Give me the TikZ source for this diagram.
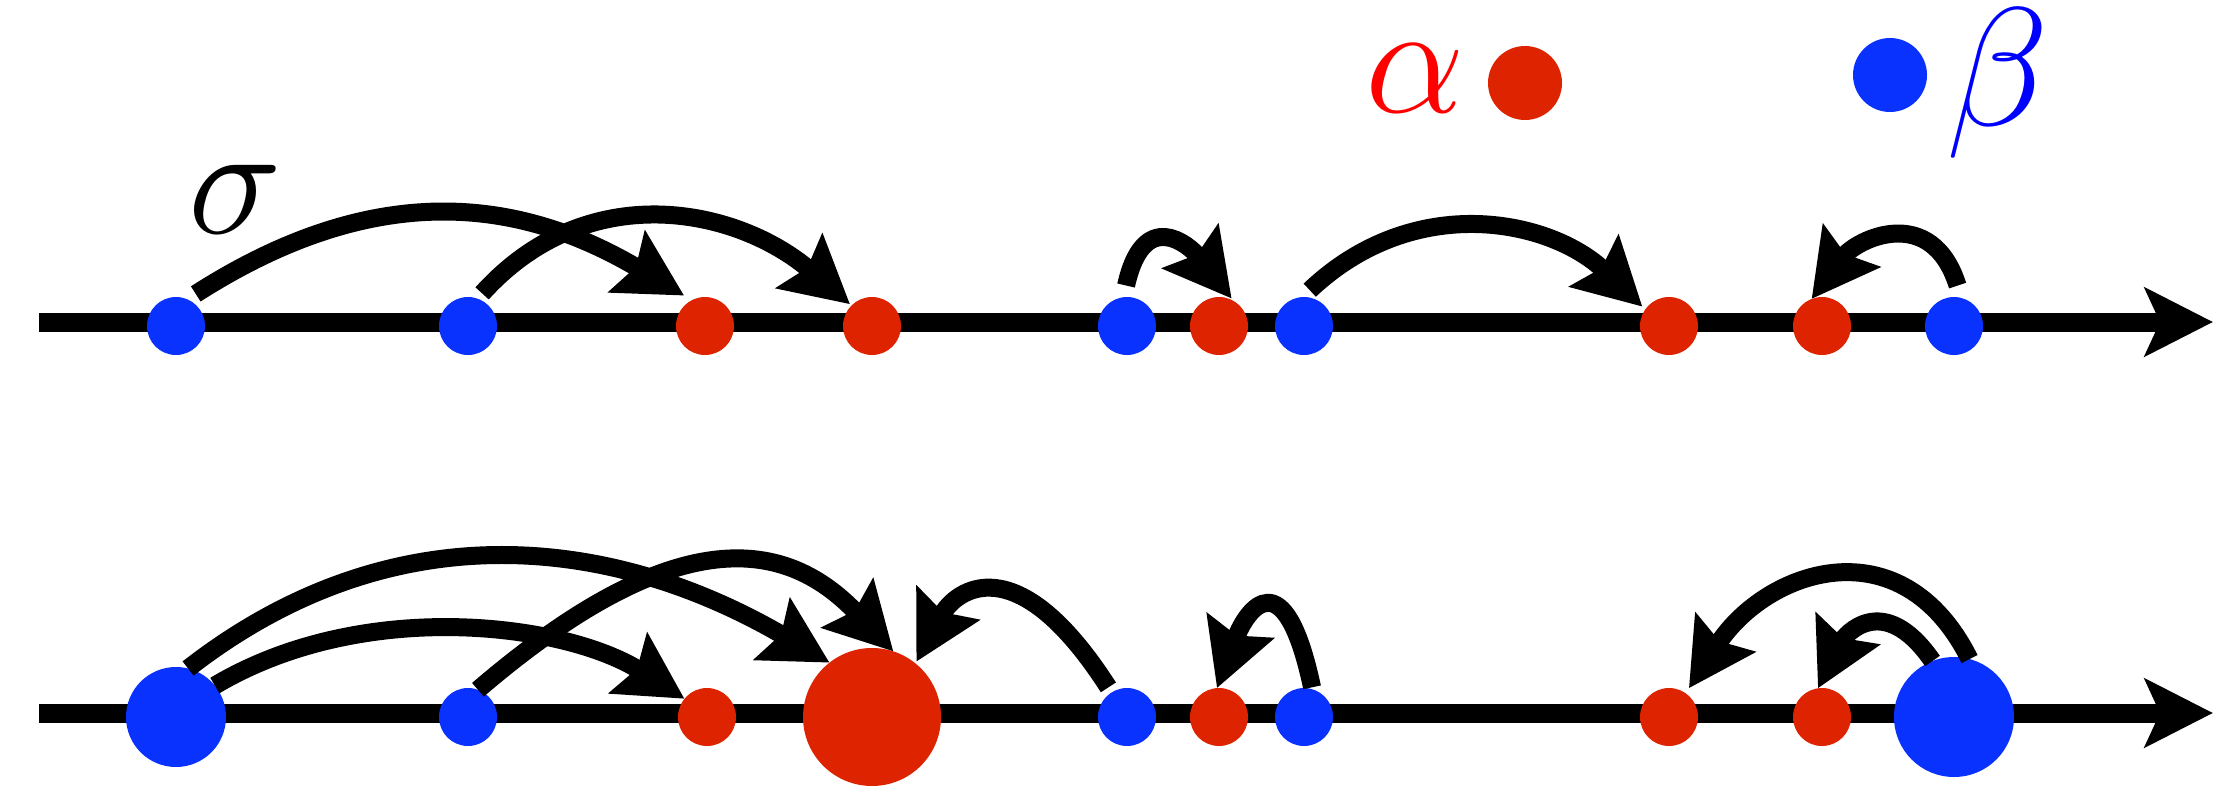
\RequirePackage{fix-cm}
\documentclass[tikz,border=0pt]{standalone}
\usetikzlibrary{arrows.meta}
\definecolor{dotred}{RGB}{222,35,0}
\definecolor{dotblue}{RGB}{10,50,255}
\begin{document}
\begin{tikzpicture}[x=0.1mm,y=-0.1mm,
  dot/.style={circle,inner sep=0pt,outer sep=0pt,minimum size=5.8mm},
  rdot/.style={dot,fill=dotred},
  bdot/.style={dot,fill=dotblue},
  axisline/.style={line width=1.9mm,-{Stealth[length=6.8mm,width=6.8mm,inset=1.5mm]}},
  jump/.style={line width=1.8mm,-{Stealth[length=6.6mm,width=7mm,inset=1mm]}},
  greek/.style={inner sep=0pt,anchor=base west,font=\fontsize{45}{54}\selectfont},
  bigbeta/.style={greek,font=\fontsize{48}{58}\selectfont}]
\useasboundingbox (0,0) rectangle (2223,793);
% axes
\coordinate (a1) at (39,322);
\coordinate (a2) at (2213,322);
\coordinate (c1) at (39,713);
\coordinate (c2) at (2213,713);
\draw[axisline] (a1) -- (a2);
\draw[axisline] (c1) -- (c2);
% legend
\node[greek,text=red] (alpha) at (1365,112) {$\alpha$};
\node[rdot,minimum size=7.4mm] (lr) at (1525,83) {};
\node[bdot,minimum size=7.4mm] (lb) at (1890,75) {};
\node[bigbeta,text=blue] (beta) at (1946,126) {$\beta$};
\node[greek] (sigma) at (188,233) {$\sigma$};
% top row
\node[bdot] (tb1) at (176,326) {};
\node[bdot] (tb2) at (468,326) {};
\node[rdot] (tr1) at (705,326) {};
\node[rdot] (tr2) at (872,326) {};
\node[bdot] (tb3) at (1127,326) {};
\node[rdot] (tr3) at (1219,326) {};
\node[bdot] (tb4) at (1304,326) {};
\node[rdot] (tr4) at (1669,326) {};
\node[rdot] (tr5) at (1822,326) {};
\node[bdot] (tb5) at (1954,326) {};
% bottom row
\node[bdot,minimum size=10mm] (bb1) at (176,717) {};
\node[bdot] (bb2) at (468,717) {};
\node[rdot] (br1) at (707,717) {};
\node[rdot,minimum size=13.8mm] (bR) at (872,717) {};
\node[bdot] (bb3) at (1127,717) {};
\node[rdot] (br3) at (1219,717) {};
\node[bdot] (bb4) at (1304,717) {};
\node[rdot] (br4) at (1669,717) {};
\node[rdot] (br5) at (1822,717) {};
\node[bdot,minimum size=12mm] (bB) at (1954,717) {};
% top arcs
\draw[jump,shorten <=1mm,shorten >=0.9mm] (tb1.67) .. controls +(195,-125) and +(-165,-98) .. (tr1.117);
\draw[jump,shorten <=0.7mm,shorten >=0.2mm] (tb2.71) .. controls +(110,-122) and +(-115,-98) .. (tr2.135);
\draw[jump,shorten <=1.2mm,shorten >=0.3mm] (tb3.97) .. controls +(20,-90) and +(-45,-57) .. (tr3.60);
\draw[jump,shorten <=1mm,shorten >=0.4mm] (tb4.93) .. controls +(112,-106) and +(-95,-90) .. (tr4.145);
\draw[jump,shorten <=1.3mm] (tb5.75) .. controls +(-30,-95) and +(45,-60) .. (tr5.111);
% bottom arcs
\draw[jump] (bb1.39) .. controls +(148,-88) and +(-120,-76) .. (br1.141);
\draw[jump] (bb1.76) .. controls +(203,-158) and +(-219,-128) .. (bR.128);
\draw[jump] (bb2.70) .. controls +(210,-180) and +(-100,-105) .. (bR.72);
\draw[jump,shorten <=0.6mm,shorten >=0.2mm] (bb3.122) .. controls +(-95,-148) and +(40,-74) .. (bR.51);
\draw[jump,shorten <=0.2mm] (bb4.73) .. controls +(-28,-132) and +(30,-80) .. (br3.94);
\draw[jump,shorten >=0.6mm] (bB.75) .. controls +(-68,-136) and +(81,-124) .. (br4.55);
\draw[jump] (bB.111) .. controls +(-50,-72) and +(26,-52) .. (br5.98);
\end{tikzpicture}
\end{document}
